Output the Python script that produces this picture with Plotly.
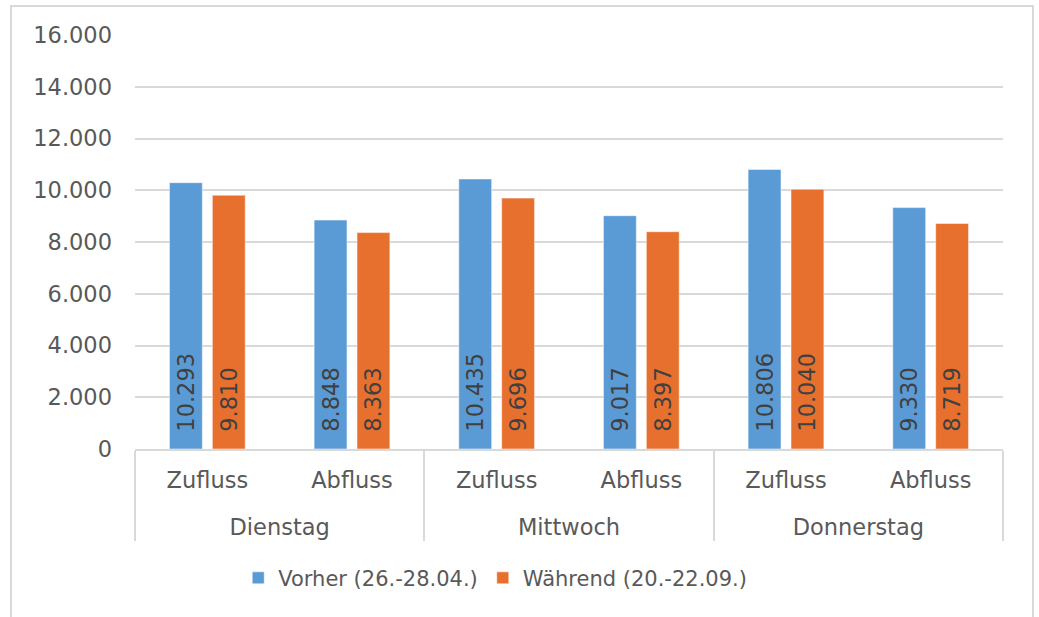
import plotly.graph_objects as go

days = ["Dienstag", "Dienstag", "Mittwoch", "Mittwoch", "Donnerstag", "Donnerstag"]
flows = ["Zufluss", "Abfluss", "Zufluss", "Abfluss", "Zufluss", "Abfluss"]

vorher = [10293, 8848, 10435, 9017, 10806, 9330]
waehrend = [9810, 8363, 9696, 8397, 10040, 8719]

y_ticks = [0, 2000, 4000, 6000, 8000, 10000, 12000, 14000, 16000]

blue = "#5B9BD5"
orange = "#E8702E"
grid = "#D9D9D9"
font = "DejaVu Sans"

# outer level labels get an empty first line to push them down like Excel does
day_labels = ["<br>" + d for d in days]

fig = go.Figure()
for name, vals, col in [("Vorher (26.-28.04.)", vorher, blue),
                        ("Während (20.-22.09.)", waehrend, orange)]:
    fig.add_trace(go.Bar(
        x=[day_labels, flows], y=vals, name=name,
        marker=dict(color=col, line=dict(color="rgba(255,255,255,0.5)", width=1)),
        texttemplate="\u00a0\u00a0%{y:,}", textposition="inside", insidetextanchor="start",
        textangle=-90, textfont=dict(family=font, size=22.5, color="#404040"),
        hoverinfo="skip",
    ))

fig.update_layout(
    width=1039, height=617,
    margin=dict(l=135, r=36, t=35, b=168),
    paper_bgcolor="white", plot_bgcolor="white",
    separators=",.",
    barmode="group", bargap=0.407, bargroupgap=0.233,
    uniformtext=dict(minsize=22, mode="show"),
    font=dict(family=font, size=22.5, color="#595959"),
    showlegend=True,
    legend=dict(orientation="h", x=0.415, xanchor="center", y=-0.312, yanchor="middle",
                font=dict(family=font, size=21, color="#595959"),
                itemwidth=30, tracegroupgap=0),
)

fig.update_xaxes(
    type="multicategory", showline=True, linecolor=grid, linewidth=1.5,
    showdividers=True, dividercolor=grid, dividerwidth=1.5,
    tickfont=dict(family=font, size=22.5, color="#595959"),
    showgrid=False, ticks="", ticklabelstandoff=10,
)
fig.update_yaxes(
    range=[0, 16000], tickvals=y_ticks, tickformat=",",
    showgrid=True, gridcolor=grid, gridwidth=1.5, zeroline=False,
    showline=False, ticks="", ticklabelstandoff=22,
    tickfont=dict(family=font, size=22.5, color="#595959"),
)

# outer chart frame
fig.add_shape(type="rect", xref="paper", yref="paper",
              x0=-0.1429, x1=1.0346, y0=-0.42, y1=1.0700,
              line=dict(color=grid, width=2), fillcolor="rgba(0,0,0,0)", layer="below")

# drop the default page margin so the figure sits at the window's corner
fig.write_html("out.html", config={"displayModeBar": False},
               post_script="document.body.style.margin = '0';")
